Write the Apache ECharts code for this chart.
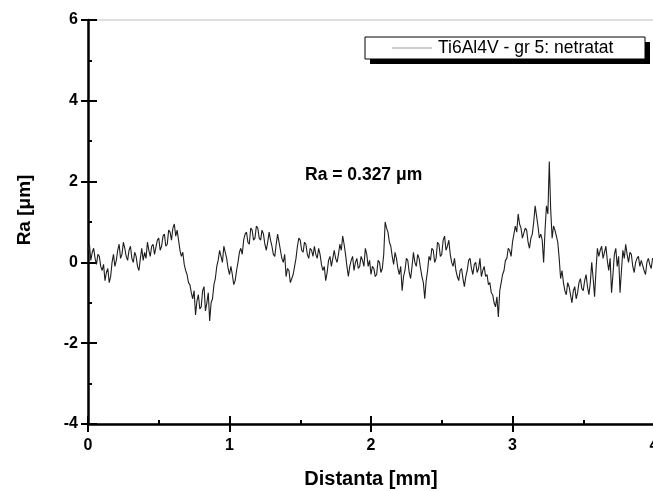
<!DOCTYPE html>
<html>
<head>
<meta charset="utf-8">
<script src="https://cdn.jsdelivr.net/npm/echarts@6/dist/echarts.min.js"></script>
<style>html,body{margin:0;padding:0;background:#fff;}#c{width:653px;height:491px;}</style>
</head>
<body>
<div id="c"></div>
<script>
// Roughness profile, sampled every 0.01 mm starting at 0 mm
const SAMPLE_START = 0;
const SAMPLE_STEP = 0.01;
const profile = [
  0.3, 0.45, 0.05, 0.25, 0.35, 0.1, -0.05, 0.2, 0.15, -0.1, -0.2, -0.05, -0.45, -0.25, -0.15, -0.5, -0.35, 0.0, 0.2, -0.1,
  0.05, 0.3, 0.45, 0.1, 0.2, 0.5, 0.35, 0.15, 0.05, 0.3, 0.4, 0.1, 0.0, 0.25, 0.15, -0.1, -0.2, 0.1, 0.35, 0.05,
  0.25, 0.1, 0.5, 0.3, 0.15, 0.4, 0.45, 0.2, 0.2, 0.55, 0.6, 0.3, 0.4, 0.65, 0.7, 0.4, 0.45, 0.8, 0.75, 0.55,
  0.85, 0.95, 0.65, 0.8, 0.55, 0.3, 0.15, 0.25, -0.05, -0.2, -0.3, -0.5, -0.55, -0.75, -0.9, -0.7, -1.3, -0.95, -0.8, -1.15,
  -1.1, -0.7, -0.6, -1.2, -1.0, -0.75, -1.45, -1.0, -0.9, -0.55, -0.4, -0.1, 0.05, 0.3, 0.15, 0.0, 0.4, 0.25, 0.1, -0.15,
  -0.3, -0.1, -0.3, -0.55, -0.45, -0.2, 0.0, 0.25, 0.35, 0.2, 0.55, 0.7, 0.75, 0.5, 0.45, 0.85, 0.8, 0.55, 0.6, 0.9,
  0.85, 0.6, 0.55, 0.8, 0.7, 0.45, 0.3, 0.5, 0.75, 0.55, 0.4, 0.2, 0.15, 0.45, 0.7, 0.5, 0.3, 0.1, 0.0, 0.2,
  -0.35, -0.15, -0.2, -0.5, -0.5, -0.3, -0.1, 0.1, 0.4, 0.6, 0.55, 0.3, 0.25, 0.5, 0.45, 0.2, 0.1, 0.35, 0.3, 0.15,
  0.4, 0.2, 0.1, 0.35, 0.2, -0.05, -0.2, -0.1, -0.45, -0.25, 0.05, 0.15, -0.1, 0.1, 0.3, 0.1, 0.0, 0.2, 0.45, 0.3,
  0.65, 0.45, 0.2, -0.1, -0.35, -0.1, 0.05, 0.15, -0.2, 0.0, 0.1, -0.15, -0.1, 0.15, 0.05, -0.1, 0.35, 0.2, -0.1, 0.05,
  -0.3, -0.1, -0.15, -0.35, -0.3, 0.05, 0.0, -0.25, -0.15, 0.2, 1.0, 0.85, 0.75, 0.5, 0.4, 0.15, -0.05, 0.25, 0.1, -0.15,
  -0.3, -0.1, -0.7, -0.35, -0.2, 0.1, 0.05, -0.25, -0.4, -0.1, 0.25, 0.0, -0.1, 0.2, 0.1, -0.15, -0.35, -0.5, -0.9, -0.45,
  -0.2, 0.15, 0.05, 0.35, 0.3, 0.0, 0.1, 0.5, 0.45, 0.15, 0.2, 0.55, 0.65, 0.3, 0.4, 0.55, 0.2, 0.0, -0.1, 0.1,
  -0.2, -0.35, -0.45, -0.2, -0.15, -0.4, -0.6, -0.35, -0.2, 0.05, 0.1, -0.15, -0.3, -0.05, 0.0, -0.25, -0.15, 0.1, -0.35, -0.2,
  -0.1, -0.35, -0.3, -0.55, -0.5, -0.75, -0.8, -1.0, -1.1, -0.85, -1.35, -0.7, -0.5, -0.3, -0.2, 0.05, 0.1, 0.35, 0.3, 0.15,
  0.5, 0.7, 0.9, 0.75, 1.2, 0.95, 0.85, 0.6, 0.6, 0.85, 0.8, 0.5, 0.35, 0.6, 0.7, 1.0, 1.4, 1.15, 0.9, 0.6,
  0.7, 0.55, 0.0, 0.8, 1.4, 1.2, 2.5, 1.3, 0.6, 0.9, 0.8, 0.65, 0.5, 0.1, -0.4, -0.2, -0.5, -0.7, -0.8, -0.5,
  -0.6, -0.8, -1.0, -0.7, -0.6, -0.9, -0.75, -0.5, -0.4, -0.65, -0.7, -0.45, -0.3, -0.6, -0.8, -0.5, 0.0, -0.4, -0.85, -0.2,
  0.35, 0.15, 0.3, 0.4, 0.1, 0.25, 0.4, 0.05, -0.2, 0.1, -0.75, -0.3, 0.2, 0.35, -0.1, 0.15, -0.75, -0.2, 0.3, 0.1,
  0.45, 0.2, 0.0, 0.25, 0.2, -0.1, -0.25, 0.0, 0.1, 0.15, -0.1, 0.05, 0.05, -0.2, -0.3, 0.0, 0.1, -0.05, -0.15, 0.1, 0.05
];
const xTicks = { min: 0, max: 4, interval: 1 };
const yTicks = { min: -4, max: 6, interval: 2 };
const seriesName = 'Ti6Al4V - gr 5: netratat';
const annotation = 'Ra = 0.327 \u03bcm';
const xTitle = 'Distanta [mm]';
const yTitle = 'Ra [\u03bcm]';

const data = profile.map((v, i) => [+(SAMPLE_START + i * SAMPLE_STEP).toFixed(2), v]);
const FONT = 'Arial, "Liberation Sans", sans-serif';

const chart = echarts.init(document.getElementById('c'), null, { renderer: 'canvas' });
chart.setOption({
  animation: false,
  backgroundColor: '#fff',
  grid: {
    left: 88, top: 20, width: 566, height: 404,
    outerBoundsMode: 'none', containLabel: false,
    show: true, borderColor: '#bdbdbd', borderWidth: 1, backgroundColor: 'transparent'
  },
  xAxis: [
    {
      type: 'value', min: xTicks.min, max: xTicks.max, interval: xTicks.interval,
      axisLine: { show: true, onZero: false, lineStyle: { color: '#000', width: 2.5 } },
      axisTick: { show: true, inside: false, length: 8, lineStyle: { color: '#000', width: 2 } },
      axisLabel: { fontFamily: FONT, fontWeight: 'bold', fontSize: 16, color: '#000', margin: 14 },
      splitLine: { show: false }
    },
    {
      type: 'value', min: xTicks.min, max: xTicks.max, interval: xTicks.interval, position: 'bottom',
      axisLine: { show: false, onZero: false },
      axisTick: { show: true, inside: true, length: 8, lineStyle: { color: '#000', width: 2 } },
      minorTick: { show: true, splitNumber: 2, length: 4, lineStyle: { color: '#000', width: 2 } },
      axisLabel: { show: false },
      splitLine: { show: false }
    }
  ],
  yAxis: [
    {
      type: 'value', min: yTicks.min, max: yTicks.max, interval: yTicks.interval,
      axisLine: { show: true, onZero: false, lineStyle: { color: '#000', width: 2.5 } },
      axisTick: { show: true, inside: false, length: 7, lineStyle: { color: '#000', width: 2 } },
      axisLabel: { fontFamily: FONT, fontWeight: 'bold', fontSize: 16, color: '#000', margin: 10 },
      splitLine: { show: false }
    },
    {
      type: 'value', min: yTicks.min, max: yTicks.max, interval: yTicks.interval, position: 'left',
      axisLine: { show: false, onZero: false },
      axisTick: { show: true, inside: true, length: 9, lineStyle: { color: '#000', width: 2 } },
      minorTick: { show: true, splitNumber: 2, length: 4, lineStyle: { color: '#000', width: 2 } },
      axisLabel: { show: false },
      splitLine: { show: false }
    }
  ],
  series: [{
    name: seriesName,
    type: 'line',
    data: data,
    symbol: 'none',
    lineStyle: { color: '#1e1e1e', width: 1.1 },
    itemStyle: { color: '#1e1e1e' },
    clip: true
  }],
  graphic: [
    { type: 'rect', shape: { x: 370, y: 42, width: 280, height: 22 }, style: { fill: '#000' }, z: 10 },
    { type: 'rect', shape: { x: 365, y: 37, width: 280, height: 22 }, style: { fill: '#fff', stroke: '#000', lineWidth: 1 }, z: 11 },
    { type: 'line', shape: { x1: 392, y1: 48, x2: 432, y2: 48 }, style: { stroke: '#9a9a9a', lineWidth: 1 }, z: 12 },
    { type: 'text', x: 438, y: 48, z: 12,
      style: { text: seriesName, fontFamily: FONT, fontSize: 17.5, fill: '#000', verticalAlign: 'middle' } },
    { type: 'text', x: 305, y: 175, z: 12,
      style: { text: annotation, fontFamily: FONT, fontWeight: 'bold', fontSize: 17.5, fill: '#000', verticalAlign: 'middle' } },
    { type: 'text', x: 371, y: 479, z: 12,
      style: { text: xTitle, fontFamily: FONT, fontWeight: 'bold', fontSize: 20, fill: '#000', align: 'center', verticalAlign: 'middle' } },
    { type: 'text', x: 25, y: 210, rotation: Math.PI / 2, z: 12,
      style: { text: yTitle, fontFamily: FONT, fontWeight: 'bold', fontSize: 19, fill: '#000', align: 'center', verticalAlign: 'middle' } }
  ]
});
</script>
</body>
</html>
